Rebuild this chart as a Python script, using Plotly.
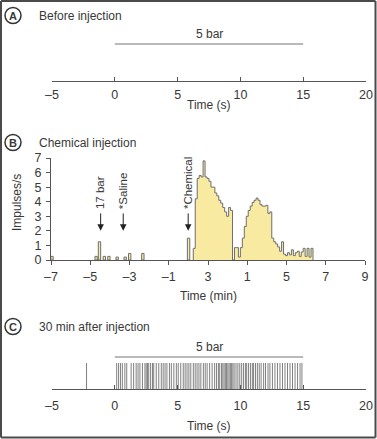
import plotly.graph_objects as go

W, H = 377, 439
def fx(p): return p / W
def fy(p): return 1 - p / H

FONT = "Liberation Sans, Arial, sans-serif"
TXT = "#383838"
AX = "#555555"
YELLOW = "#f8eaa0"
OUTLINE = "#6e6e6e"

# ---------------- data ----------------
# Panel A / C: time in seconds
a_tickvals = [-5, 0, 5, 10, 15, 20]
a_ticktext = ["–5", "0", "5", "10", "15", "20"]
stim_window = [0, 15]            # 5 bar stimulus, seconds
stim_label = "5 bar"

# Panel B: time in minutes
b_tickvals = [-7, -5, -3, -1, 1, 3, 5, 7, 9]
b_ticktext = ["–7", "–5", "–3", "–1", "3", "1", "5", "7", "9"]
b_yticks = [0, 1, 2, 3, 4, 5, 6, 7]

# sparse spontaneous bins before the chemical response (min, impulses/s)
pre_t = [-6.95, -4.70, -4.53, -4.28, -4.05, -3.63, -3.22, -2.99, -2.32, 0.01]
pre_rate = [0.25, 0.25, 1.25, 0.25, 0.25, 0.2, 0.2, 0.45, 0.45, 1.5]
pre_width = 0.12

# response histogram, 0.1-min bins starting at resp_start
resp_start = 0.25
resp_bin = 0.1
resp_rate = [0.8, 4.2, 5.6, 5.8, 5.7, 6.8, 5.7, 5.6, 5.4, 5.0,
             5.0, 4.6, 4.4, 4.1, 3.9, 3.6, 3.3, 3.0, 3.6, 3.4,
             0.0, 0.85, 0.85, 0.2, 0.85,
             1.5, 2.3, 3.0, 3.4, 3.7, 3.95, 4.1, 4.25, 4.1, 3.8,
             3.7, 3.7, 3.75, 3.2, 3.3, 1.5, 1.25, 1.1, 0.9, 0.6,
             1.25, 0.4, 0.3, 0.5, 0.35, 0.7, 0.3, 0.5, 0.6, 0.25,
             0.55, 0.8, 0.25, 0.8, 0.2, 0.8]

events_t = [-4.47, -3.32, -0.01]
events_label = ["17 bar", "*Saline", "*Chemical"]

# Panel C spike times (s)
c_spikes = [-2.25,
            0.15, 0.3, 0.45, 0.6, 0.8, 0.95, 1.3, 1.5, 1.7, 1.85, 2.0, 2.2, 2.4, 2.5,
            2.6, 2.7, 2.85, 3.0, 3.1, 3.3, 3.5, 3.7, 3.85, 4.0, 4.15, 4.35, 4.5, 4.7,
            4.9, 5.05, 5.25, 5.45, 5.6, 5.75, 5.9, 6.05, 6.25, 6.4, 6.55, 6.7, 6.85,
            7.05, 7.2, 7.35, 7.55, 7.75, 7.95, 8.1, 8.25, 8.35, 8.5, 8.6, 8.7, 8.8,
            8.9, 9.0, 9.1, 9.2, 9.3, 9.4, 9.5, 9.65, 9.8, 9.95, 10.1, 10.25, 10.4,
            10.5, 10.65, 10.8, 10.95, 11.05, 11.2, 11.35, 11.5, 11.65, 11.85, 12.0,
            12.2, 12.35, 12.55, 12.75, 12.95, 13.15, 13.35, 13.55, 13.75, 13.95,
            14.15, 14.35, 14.55, 14.75, 14.9]

# ---------------- figure ----------------
fig = go.Figure()

# Panel A stimulus bar
A_LEVEL = 0.74
fig.add_trace(go.Scatter(x=stim_window, y=[A_LEVEL] * 2, mode="lines",
                         line=dict(color="#777777", width=1.2),
                         xaxis="x", yaxis="y", hoverinfo="skip"))

# Panel B sparse bars
fig.add_trace(go.Bar(x=pre_t, y=pre_rate, width=pre_width,
                     marker=dict(color=YELLOW, line=dict(color=OUTLINE, width=1)),
                     xaxis="x2", yaxis="y2"))

# Panel B response histogram as step outline
sx = [resp_start]
sy = [0]
for i, v in enumerate(resp_rate):
    sx.append(resp_start + i * resp_bin)
    sy.append(v)
sx.append(resp_start + len(resp_rate) * resp_bin)
sy.append(0)
fig.add_trace(go.Scatter(x=sx, y=sy, mode="lines", line=dict(shape="hv", color=OUTLINE, width=1),
                         fill="tozeroy", fillcolor=YELLOW, xaxis="x2", yaxis="y2",
                         hoverinfo="skip"))

# Panel C stimulus bar and spikes
C_LEVEL = 0.64
SPIKE_H = 0.52
fig.add_trace(go.Scatter(x=stim_window, y=[C_LEVEL] * 2, mode="lines",
                         line=dict(color="#777777", width=1.2),
                         xaxis="x3", yaxis="y3", hoverinfo="skip"))
spx, spy = [], []
for t in c_spikes:
    spx += [t, t, None]
    spy += [0, SPIKE_H, None]
fig.add_trace(go.Scatter(x=spx, y=spy, mode="lines", line=dict(color="#808080", width=1),
                         xaxis="x3", yaxis="y3", hoverinfo="skip"))

axis_common = dict(showgrid=False, zeroline=False, showline=True, linecolor=AX,
                   linewidth=1, tickcolor=AX, tickwidth=1, automargin=False,
                   tickfont=dict(family=FONT, size=12.5, color=TXT), fixedrange=True)

fig.update_layout(
    template="none",
    width=W, height=H, margin=dict(l=0, r=0, t=0, b=0, pad=0, autoexpand=False),
    paper_bgcolor="white", plot_bgcolor="white", showlegend=False,
    font=dict(family=FONT, color=TXT),
    xaxis=dict(domain=[fx(52), fx(366)], range=[-5, 20], anchor="y",
               tickmode="array", tickvals=a_tickvals, ticktext=a_ticktext,
               ticks="inside", ticklen=4, ticklabelstandoff=2, **axis_common),
    yaxis=dict(domain=[fy(81), fy(31)], range=[0, 1], visible=False, fixedrange=True,
               automargin=False),
    xaxis2=dict(domain=[fx(51), fx(365)], range=[-7, 9], anchor="y2",
                tickmode="array", tickvals=b_tickvals, ticktext=b_ticktext,
                ticks="outside", ticklen=4, ticklabelstandoff=1, **axis_common),
    yaxis2=dict(domain=[fy(260), fy(158)], range=[0, 7], anchor="x2",
                tickmode="array", tickvals=b_yticks,
                ticks="outside", ticklen=4, ticklabelstandoff=2, **axis_common),
    xaxis3=dict(domain=[fx(52), fx(366)], range=[-5, 20], anchor="y3",
                tickmode="array", tickvals=a_tickvals, ticktext=a_ticktext,
                ticks="inside", ticklen=4, ticklabelstandoff=5, **axis_common),
    yaxis3=dict(domain=[fy(389), fy(339)], range=[0, 1], visible=False, fixedrange=True,
                automargin=False),
)

ann = []
def paper_text(text, px, py, size=12, xanchor="left", angle=0, bold=False):
    ann.append(dict(text=("<b>%s</b>" % text) if bold else text, x=fx(px), y=fy(py),
                    xref="paper", yref="paper", xanchor=xanchor, yanchor="middle",
                    showarrow=False, textangle=angle,
                    font=dict(family=FONT, size=size, color=TXT)))

# panel letters and titles
for letter, cy, title in [("A", 15.5, "Before injection"), ("B", 142.5, "Chemical injection"),
                          ("C", 326.5, "30 min after injection")]:
    fig.add_shape(type="circle", xref="paper", yref="paper",
                  x0=fx(5), x1=fx(21), y0=fy(cy + 8), y1=fy(cy - 8),
                  line=dict(color="#333333", width=1.5))
    paper_text(letter, 13, cy + 0.5, size=11, xanchor="center", bold=True)
    paper_text(title, 37, cy, size=12)

# axis titles
paper_text("Time (s)", 209, 105, xanchor="center")
paper_text("Time (min)", 208, 296, xanchor="center")
paper_text("Impulses/s", 17, 203, xanchor="center", angle=-90)
paper_text("Time (s)", 209, 426, xanchor="center")

# stimulus labels
for xr, yr, lvl in [("x", "y", A_LEVEL), ("x3", "y3", C_LEVEL)]:
    ann.append(dict(text=stim_label, x=sum(stim_window) / 2, y=lvl, xref=xr, yref=yr,
                    xanchor="center", yanchor="bottom", yshift=1, showarrow=False,
                    font=dict(family=FONT, size=12, color=TXT)))

# event arrows and labels in panel B
ARROW_TIP = 2.0
ARROW_TAIL = 3.3
for t, lab in zip(events_t, events_label):
    ann.append(dict(text="", x=t, y=ARROW_TIP, ax=t, ay=ARROW_TAIL, xref="x2", yref="y2",
                    axref="x2", ayref="y2", showarrow=True, arrowhead=2, arrowsize=1.3,
                    arrowwidth=1, arrowcolor="#222222"))
    ann.append(dict(text=lab, x=t, y=ARROW_TAIL, xref="x2", yref="y2", xanchor="center",
                    yanchor="bottom", yshift=1, showarrow=False, textangle=-90,
                    font=dict(family=FONT, size=11.5, color=TXT)))

fig.update_layout(annotations=ann)

# outer frame drawn as four edge lines
for (x0, y0, x1, y1) in [(1, 1, 375.5, 1), (1, 437.5, 375.5, 437.5),
                         (1, 1, 1, 437.5), (375.5, 1, 375.5, 437.5)]:
    fig.add_shape(type="line", xref="paper", yref="paper",
                  x0=fx(x0), y0=fy(y0), x1=fx(x1), y1=fy(y1),
                  line=dict(color="#4a4a4a", width=2))

fig.write_html("out.html", config={"displayModeBar": False, "staticPlot": True},
               post_script="document.body.style.margin='0';document.body.style.overflow='hidden';")
